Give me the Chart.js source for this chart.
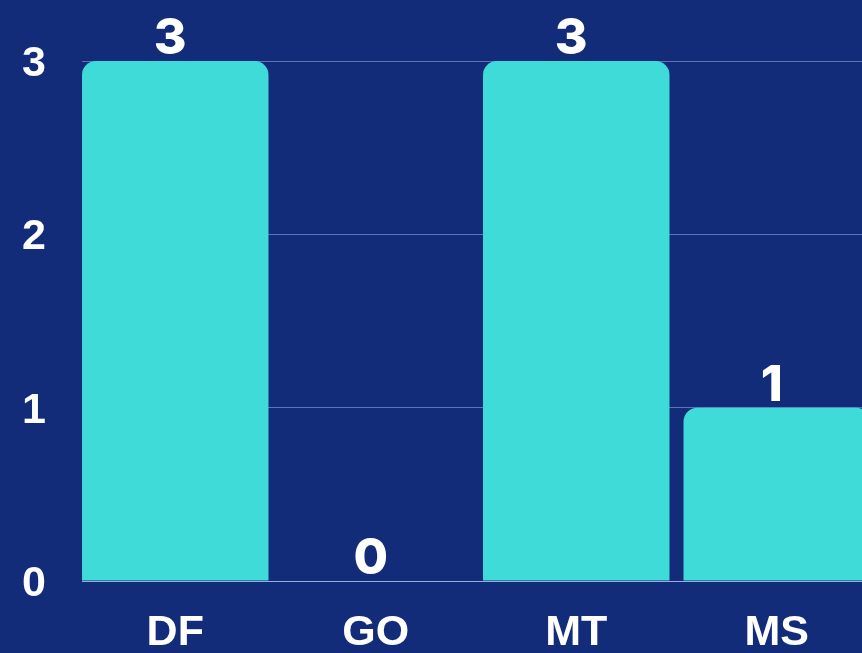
<!DOCTYPE html>
<html>
<head>
<meta charset="utf-8">
<script src="https://cdn.jsdelivr.net/npm/chart.js@4"></script>
<style>
  html, body { margin: 0; padding: 0; overflow: hidden; background: #132c7a; }
  #wrap { width: 862px; height: 653px; overflow: hidden; }
</style>
</head>
<body>
<div id="wrap"><canvas id="bar-graph" width="877" height="653"></canvas></div>
<script>
const states = ['DF', 'GO', 'MT', 'MS'];
const counts = [3, 0, 3, 1];
const yTicks = [0, 1, 2, 3];

const BG = '#132c7a';

// grid lines start where the first bar starts
const gridTrim = {
    id: 'gridTrim',
    beforeDatasetsDraw(chart) {
        const area = chart.chartArea;
        const first = chart.getDatasetMeta(0).data[0];
        const left = first.x - first.width / 2;
        const ctx = chart.ctx;
        ctx.save();
        ctx.fillStyle = BG;
        ctx.fillRect(area.left - 1, area.top - 2, left - area.left + 1, area.bottom - area.top + 4);
        ctx.restore();
    }
};

// draws the value above each bar, using the bar element positions
const valueLabels = {
    id: 'valueLabels',
    afterDatasetsDraw(chart) {
        const ctx = chart.ctx;
        const meta = chart.getDatasetMeta(0);
        ctx.save();
        ctx.fillStyle = '#ffffff';
        ctx.font = '800 50px Inter';
        ctx.textAlign = 'center';
        ctx.textBaseline = 'bottom';
        meta.data.forEach((bar, i) => {
            ctx.fillText(String(counts[i]), bar.x - 5, bar.y + 3);
        });
        ctx.restore();
    }
};

const barChartData = {
    labels: states,
    datasets: [{
        data: counts,
        backgroundColor: '#3fdbd8',
        borderRadius: 14,
        borderSkipped: 'start',
        barPercentage: 0.93,
        categoryPercentage: 1
    }]
};

const config = {
    type: 'bar',
    data: barChartData,
    options: {
        responsive: false,
        animation: false,
        layout: { padding: { top: 61, right: 0, bottom: 0, left: 0 } },
        plugins: {
            legend: { display: false },
            tooltip: { enabled: false }
        },
        scales: {
            x: {
                grid: { display: false, drawTicks: false },
                border: { display: false },
                ticks: {
                    color: '#ffffff',
                    padding: 26,
                    font: { family: 'Liberation Sans', size: 43, weight: 'bold' }
                },
                afterFit(scale) { scale.height = 72; }
            },
            y: {
                min: 0,
                max: 3,
                afterBuildTicks(scale) { scale.ticks = yTicks.map(v => ({ value: v })); },
                grid: {
                    color: ctx => ctx.tick && ctx.tick.value === 0 ? 'rgba(200,210,255,0.75)' : 'rgba(190,200,255,0.45)',
                    lineWidth: 1,
                    drawTicks: false
                },
                border: { display: false },
                ticks: {
                    color: '#ffffff',
                    padding: 29,
                    labelOffset: 3,
                    font: { family: 'Liberation Sans', size: 43, weight: 'bold' }
                },
                afterFit(scale) { scale.width = 75; }
            }
        }
    },
    plugins: [gridTrim, valueLabels]
};

const barGraph = new Chart(document.getElementById('bar-graph'), config);
</script>
</body>
</html>
